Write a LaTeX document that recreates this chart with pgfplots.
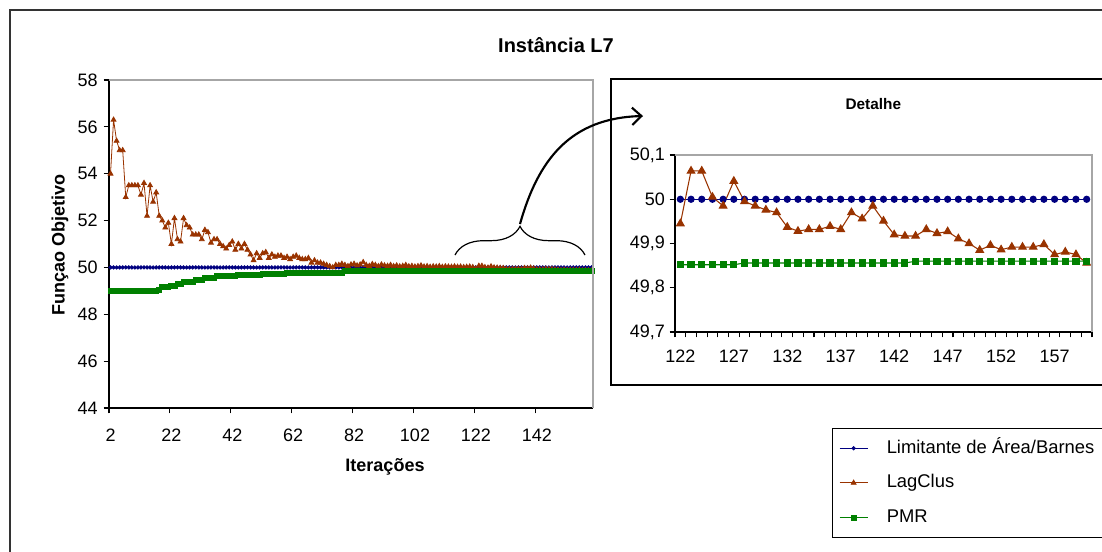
\documentclass[border=0pt]{standalone}
\usepackage{fontspec}
\setmainfont{Liberation Sans}
\usepackage{pgfplots}
\usepackage{pgfplotstable}
\pgfplotsset{compat=1.18}
\usetikzlibrary{decorations.pathreplacing,arrows.meta}
\definecolor{cblue}{HTML}{000080}
\definecolor{cbrown}{HTML}{993300}
\definecolor{cgreen}{HTML}{008000}

\pgfplotstableread{
it lim lag pmr
2 50 54.0 49.0
3 50 56.3 49.0
4 50 55.4 49.0
5 50 55.0 49.0
6 50 55.0 49.0
7 50 53.0 49.0
8 50 53.5 49.0
9 50 53.5 49.0
10 50 53.5 49.0
11 50 53.5 49.0
12 50 53.1 49.0
13 50 53.6 49.0
14 50 52.2 49.0
15 50 53.5 49.0
16 50 52.8 49.0
17 50 53.2 49.0
18 50 52.2 49.05
19 50 52.0 49.15
20 50 51.7 49.15
21 50 51.9 49.15
22 50 51.0 49.22
23 50 52.1 49.22
24 50 51.2 49.3
25 50 51.1 49.3
26 50 52.1 49.4
27 50 51.8 49.4
28 50 51.7 49.4
29 50 51.4 49.4
30 50 51.4 49.47
31 50 51.4 49.47
32 50 51.2 49.47
33 50 51.6 49.55
34 50 51.5 49.55
35 50 51.05 49.55
36 50 51.2 49.55
37 50 51.2 49.62
38 50 51.0 49.62
39 50 50.9 49.62
40 50 50.8 49.62
41 50 50.95 49.62
42 50 51.1 49.62
43 50 50.75 49.62
44 50 51.0 49.68
45 50 50.8 49.68
46 50 51.0 49.68
47 50 50.75 49.68
48 50 50.55 49.68
49 50 50.3 49.68
50 50 50.6 49.68
51 50 50.4 49.68
52 50 50.6 49.73
53 50 50.65 49.73
54 50 50.4 49.73
55 50 50.55 49.73
56 50 50.45 49.73
57 50 50.5 49.73
58 50 50.5 49.73
59 50 50.4 49.73
60 50 50.45 49.78
61 50 50.35 49.78
62 50 50.45 49.78
63 50 50.5 49.78
64 50 50.4 49.78
65 50 50.35 49.78
66 50 50.35 49.78
67 50 50.4 49.78
68 50 50.2 49.78
69 50 50.3 49.78
70 50 50.2 49.78
71 50 50.2 49.78
72 50 50.15 49.78
73 50 50.1 49.78
74 50 50.05 49.78
75 50 50.0 49.78
76 50 50.1 49.78
77 50 50.1 49.78
78 50 50.15 49.78
79 50 50.10 49.84
80 50 50.05 49.84
81 50 50.12 49.84
82 50 50.15 49.84
83 50 50.08 49.84
84 50 50.12 49.84
85 50 50.22 49.84
86 50 50.10 49.84
87 50 50.06 49.84
88 50 50.14 49.84
89 50 50.10 49.84
90 50 50.05 49.84
91 50 50.12 49.84
92 50 50.08 49.84
93 50 50.06 49.84
94 50 50.10 49.84
95 50 50.05 49.84
96 50 50.08 49.84
97 50 50.04 49.84
98 50 50.06 49.84
99 50 50.10 49.84
100 50 50.04 49.84
101 50 50.06 49.84
102 50 50.03 49.84
103 50 50.05 49.84
104 50 50.08 49.84
105 50 50.03 49.84
106 50 50.05 49.84
107 50 50.02 49.84
108 50 50.04 49.84
109 50 50.03 49.84
110 50 50.05 49.84
111 50 50.02 49.84
112 50 50.04 49.84
113 50 50.03 49.84
114 50 50.02 49.84
115 50 50.04 49.84
116 50 50.02 49.84
117 50 50.03 49.84
118 50 50.01 49.84
119 50 50.02 49.84
120 50 50.03 49.84
121 50 50.01 49.84
122 50 49.945 49.852
123 50 50.064 49.852
124 50 50.064 49.852
125 50 50.005 49.852
126 50 49.985 49.852
127 50 50.041 49.852
128 50 49.995 49.856
129 50 49.985 49.856
130 50 49.976 49.856
131 50 49.970 49.856
132 50 49.937 49.856
133 50 49.928 49.856
134 50 49.932 49.856
135 50 49.932 49.856
136 50 49.939 49.856
137 50 49.932 49.856
138 50 49.970 49.856
139 50 49.956 49.856
140 50 49.985 49.856
141 50 49.951 49.856
142 50 49.920 49.856
143 50 49.917 49.856
144 50 49.917 49.860
145 50 49.932 49.860
146 50 49.923 49.860
147 50 49.927 49.860
148 50 49.911 49.860
149 50 49.900 49.860
150 50 49.885 49.860
151 50 49.896 49.860
152 50 49.886 49.860
153 50 49.892 49.860
154 50 49.892 49.860
155 50 49.892 49.860
156 50 49.898 49.860
157 50 49.875 49.860
158 50 49.881 49.860
159 50 49.875 49.860
160 50 49.856 49.860
}\datatable

\pgfplotsset{
  excelaxis/.style={
    scale only axis,
    clip=false,
    axis x line*=bottom,
    axis y line*=left,
    axis line style={black, line width=0.8pt},
    tick align=outside,
    major tick length=4pt,
    tick style={black, line width=0.8pt},
    ticklabel style={font=\fontsize{13.5}{15}\selectfont},
    /pgf/number format/assume math mode=true,
    after end axis/.append code={
      \draw[gray!70, line width=0.8pt] (rel axis cs:0,1) -- (rel axis cs:1,1) -- (rel axis cs:1,0);
    },
  },
}

\begin{document}
\begin{tikzpicture}
\path[use as bounding box] (0,0) rectangle (826.5pt,-413.25pt);
% outer frame
\draw[line width=1pt, black!80] (7.5pt,-7.5pt) rectangle (845pt,-430pt);
% detail box
\draw[line width=1pt, black] (458.25pt,-59.25pt) rectangle (845pt,-288.75pt);
% titles and labels
\node[font=\bfseries\fontsize{15}{18}\selectfont] at (417pt,-33.75pt) {Instância L7};
\node[font=\bfseries\fontsize{11.5}{13}\selectfont] at (655pt,-78pt) {Detalhe};
\node[font=\bfseries\fontsize{13.5}{15}\selectfont, rotate=90] at (45pt,-183.75pt) {Funçao Objetivo};
\node[font=\bfseries\fontsize{13.5}{15}\selectfont] at (288.75pt,-350pt) {Iterações};

% main axis
\begin{axis}[excelaxis,
  at={(81.75pt,-306pt)}, anchor=south west,
  width=363pt, height=246pt,
  xmin=1.5, xmax=160.5, ymin=44, ymax=58,
  xtick={1.5,21.5,41.5,61.5,81.5,101.5,121.5,141.5},
  xticklabels={2,22,42,62,82,102,122,142},
  xticklabel style={xshift=1.2pt, yshift=-8pt},
  ytick={44,46,48,50,52,54,56,58},
  yticklabel style={xshift=-1pt},
  legend style={at={(1.4938,-0.061)}, anchor=north west,
    draw=black, line width=0.8pt, fill=white,
    font=\fontsize{13.8}{16}\selectfont,
    inner xsep=5pt, inner ysep=6pt, row sep=8.5pt,
    nodes={inner sep=2pt, text height=10.5pt, text depth=3pt},
    /tikz/every odd column/.append style={column sep=12pt}},
  legend cell align=left,
  legend image code/.code={
    \draw[mark repeat=2,mark phase=2,#1] plot coordinates {(0cm,0cm) (0.37cm,0cm) (0.74cm,0cm)};
  },
]
\addplot[cblue, line width=0.6pt, mark=*, mark size=1.3pt, mark options={solid, fill=cblue, draw=cblue}] table[x=it,y=lim]{\datatable};
\addlegendentry{Limitante de Área/Barnes}
\addplot[cbrown, line width=0.6pt, mark=triangle*, mark size=2.1pt, mark options={solid, fill=cbrown, draw=cbrown}] table[x=it,y=lag]{\datatable};
\addlegendentry{LagClus}
\addplot[cgreen, line width=0.6pt, mark=square*, mark size=1.9pt, mark options={solid, fill=cgreen, draw=cgreen}] table[x=it,y=pmr]{\datatable};
\addlegendentry{PMR}
\end{axis}

% detail axis
\begin{axis}[excelaxis,
  at={(506.25pt,-249pt)}, anchor=south west,
  width=312.75pt, height=132.75pt,
  xmin=121.5, xmax=160.5, ymin=49.7, ymax=50.1,
  xtick={122,127,...,157},
  minor xtick={121.5,122.5,...,160.5},
  major x tick style={draw=none},
  minor x tick style={black, line width=0.8pt},
  minor tick length=4pt,
  xticklabel style={yshift=-6pt},
  ytick={49.7,49.8,49.9,50,50.1},
  yticklabel style={/pgf/number format/.cd, use comma, fixed, precision=1},
  x tick label style={/pgf/number format/1000 sep={}},
]
\addplot[cblue, line width=0.8pt, mark=*, mark size=2.3pt, mark options={solid, fill=cblue, draw=cblue}, restrict x to domain=122:160] table[x=it,y=lim]{\datatable};
\addplot[cbrown, line width=0.8pt, mark=triangle*, mark size=3.2pt, mark options={solid, fill=cbrown, draw=cbrown}, restrict x to domain=122:160] table[x=it,y=lag]{\datatable};
\addplot[cgreen, line width=0.8pt, mark=square*, mark size=2.3pt, mark options={solid, fill=cgreen, draw=cgreen}, restrict x to domain=122:160] table[x=it,y=pmr]{\datatable};
\end{axis}

% brace and arrow
\draw[decorate, decoration={brace, amplitude=21.5pt}, line width=0.9pt] (341.25pt,-191.25pt) -- (438.75pt,-191.25pt);
\draw[line width=1.6pt, -{Straight Barb[length=7pt,width=13pt]}] (390pt,-168pt) .. controls (403.5pt,-120pt) and (427.5pt,-88.5pt) .. (482.25pt,-87pt);
\end{tikzpicture}
\end{document}
